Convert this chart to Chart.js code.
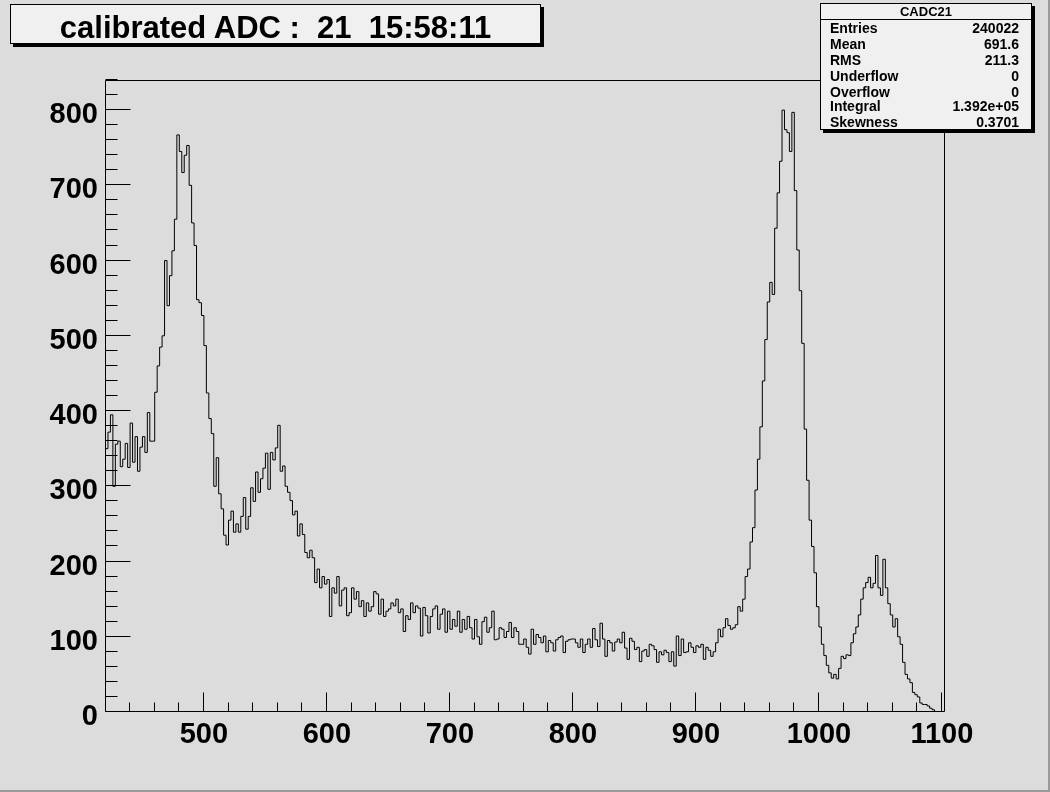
<!DOCTYPE html>
<html>
<head>
<meta charset="utf-8">
<script src="https://cdn.jsdelivr.net/npm/chart.js@4.4.1/dist/chart.umd.min.js"></script>
<style>
  html, body { margin: 0; padding: 0; background: #dcdcdc; }
  #wrap { position: relative; width: 1050px; height: 792px; background: #dcdcdc; overflow: hidden; }
  #edgeR { position: absolute; right: 0; top: 0; width: 2px; height: 792px; background: #9a9a9a; }
  #edgeB { position: absolute; left: 0; bottom: 0; width: 1050px; height: 2px; background: #9a9a9a; }
  canvas { position: absolute; left: 0; top: 0; }
  .box { position: absolute; background: #f0f0f0; border: 1px solid #000; box-shadow: 3px 3px 0 #000;
         font-family: "Liberation Sans", Arial, Helvetica, sans-serif; font-weight: bold; color: #000; }
  #title { left: 10px; top: 4px; width: 529px; height: 38px; font-size: 31px; line-height: 45px;
           text-align: center; white-space: pre; overflow: hidden; }
  #stats { left: 820px; top: 3px; width: 210px; height: 125px; font-size: 14px; }
  #stats .hdr { height: 15px; line-height: 16px; font-size: 13px; text-align: center; border-bottom: 1px solid #000; }
  #stats .row { position: absolute; left: 9px; right: 12px; height: 16px; line-height: 16px; }
  #stats .row span.v { position: absolute; right: 0; }
</style>
</head>
<body>
<div id="wrap">
  <canvas id="c" width="1050" height="792"></canvas>
  <div id="edgeR"></div><div id="edgeB"></div>
  <div class="box" id="title">calibrated ADC :  21  15:58:11</div>
  <div class="box" id="stats">
    <div class="hdr">CADC21</div>
    <div class="row" style="top:16px"><span>Entries</span><span class="v">240022</span></div>
    <div class="row" style="top:32px"><span>Mean</span><span class="v">691.6</span></div>
    <div class="row" style="top:48px"><span>RMS</span><span class="v">211.3</span></div>
    <div class="row" style="top:64px"><span>Underflow</span><span class="v">0</span></div>
    <div class="row" style="top:80px"><span>Overflow</span><span class="v">0</span></div>
    <div class="row" style="top:94px"><span>Integral</span><span class="v">1.392e+05</span></div>
    <div class="row" style="top:110px"><span>Skewness</span><span class="v">0.3701</span></div>
  </div>
</div>
<script>
// ---- data ----
const binLow = 420;
const binWidth = 2;
const counts = [
  365, 350, 372, 395, 300,   356, 360, 326, 336, 357,
  325, 384, 332, 366, 320,   352, 366, 345, 398, 360,
  360, 425, 460, 485, 500,   600, 540, 580, 613, 655,
  767, 745, 717, 740, 753,   700, 650, 620, 548, 544,
  527, 487, 424, 390, 370,   300, 338, 290, 270, 235,
  222, 255, 267, 239, 250,   239, 260, 285, 243, 260,
  298, 280, 319, 292, 310,   324, 344, 296, 345, 335,
  351, 381, 320, 327, 300,   292, 281, 262, 267, 234,
  250, 236, 212, 205, 215,   205, 172, 190, 165, 180,
  170, 176, 127, 165, 158,   180, 141, 162, 165, 128,
  132, 165, 150, 160, 140,   148, 127, 145, 134, 140,
  160, 157, 130, 150, 127,   134, 137, 145, 141, 150,
  132, 137, 107, 128, 123,   145, 132, 141, 138, 101,
  139, 128, 105, 127, 137,   141, 110, 130, 137, 106,
  134, 110, 123, 114, 134,   106, 123, 110, 127, 112,
   97, 123, 100,  90, 120,   126, 106, 112, 134,  96,
   97, 112, 110,  99, 107,   119,  99, 112, 107,  90,
   90,  97,  86,  77, 110,    90, 103,  99,  92, 101,
   80,  95,  92,  81,  96,    99, 101,  79,  94,  96,
   97,  97,  92,  86,  97,    79,  90,  97,  86, 111,
   96,  87, 118,  97,  74,    95,  92,  81,  93,  97,
   92, 106,  85,  70,  98,    94,  83,  86,  67,  81,
   83,  74,  90,  88,  83,    66,  80,  76,  82,  79,
   67,  80,  61, 101,  75,    97,  79,  80,  92,  86,
   79,  88,  86,  90,  70,    86,  82,  74,  80,  92,
  110, 100, 112, 124, 115,   110, 112, 116, 140, 134,
  150, 180, 190, 226, 245,   295, 336, 379, 440, 495,
  545, 571, 555, 643, 690,   732, 800, 774, 770, 745,
  797, 693, 614, 560, 490,   376, 308, 255, 220, 185,
  140, 113,  90,  75,  62,    52,  45,  50,  44,  58,
   74,  71,  76,  75,  92,   104, 113, 129, 150, 165,
  172, 179, 165, 171, 208,   165, 155, 203, 165, 144,
  129, 113, 124, 100,  90,    66,  50,  44,  39,  26,
   23,  20,  12,  10,  10,     8,   5,   3,   0,   0,
    0
];
const xTickLabels = [500, 600, 700, 800, 900, 1000, 1100];
const yTickLabels = [0, 100, 200, 300, 400, 500, 600, 700, 800];
const xRange = [420.4, 1102.5];
const yRange = [0, 840];

// histogram points (bin low edges + closing edge)
const points = counts.map((c, i) => ({ x: binLow + i * binWidth, y: c }));
points.push({ x: binLow + counts.length * binWidth, y: counts[counts.length - 1] });

const FONT = { family: '"Liberation Sans", Arial, Helvetica, sans-serif', size: 29, weight: 'bold' };

const frameTicks = {
  id: 'frameTicks',
  afterDatasetsDraw(chart) {
    const { ctx, chartArea: a, scales: { x, y } } = chart;
    const L = Math.round(a.left) - 0.5, R = Math.round(a.right) - 0.5;
    const T = Math.round(a.top) + 0.5, B = Math.round(a.bottom) - 0.5;
    ctx.save();
    ctx.strokeStyle = '#000';
    ctx.lineWidth = 1;
    ctx.beginPath();
    ctx.moveTo(L, T); ctx.lineTo(R, T); ctx.lineTo(R, B); ctx.lineTo(L, B); ctx.closePath();
    for (let v = 440; v <= 1100; v += 20) {
      const px = Math.round(x.getPixelForValue(v)) - 0.5;
      const len = (v % 100 === 0) ? 19 : 9;
      ctx.moveTo(px, B); ctx.lineTo(px, B - len);
    }
    for (let v = 0; v <= 840; v += 20) {
      const py = Math.round(y.getPixelForValue(v)) - 0.5;
      const len = (v % 100 === 0) ? 25 : 12;
      ctx.moveTo(L, py); ctx.lineTo(L + len, py);
    }
    ctx.stroke();
    ctx.restore();
  }
};

new Chart(document.getElementById('c'), {
  type: 'line',
  data: {
    datasets: [{
      data: points,
      stepped: 'after',
      borderColor: '#000',
      borderWidth: 1,
      pointRadius: 0,
      fill: false,
      tension: 0
    }]
  },
  options: {
    responsive: false,
    animation: false,
    events: [],
    layout: { padding: { top: 80, right: 105, left: 0, bottom: 0 } },
    plugins: { legend: { display: false }, tooltip: { enabled: false }, title: { display: false } },
    scales: {
      x: {
        type: 'linear', min: xRange[0], max: xRange[1],
        afterBuildTicks: s => { s.ticks = xTickLabels.map(v => ({ value: v })); },
        afterFit: s => { s.height = 80; },
        grid: { display: false, drawTicks: false },
        border: { display: false },
        ticks: { color: '#000', font: FONT, padding: 6, maxRotation: 0, autoSkip: false,
                 callback: v => String(v) }
      },
      y: {
        type: 'linear', min: yRange[0], max: yRange[1],
        afterBuildTicks: s => { s.ticks = yTickLabels.map(v => ({ value: v })); },
        afterFit: s => { s.width = 106; },
        grid: { display: false, drawTicks: false },
        border: { display: false },
        ticks: { color: '#000', font: FONT, padding: 8, autoSkip: false, labelOffset: 5,
                 callback: v => String(v) }
      }
    }
  },
  plugins: [frameTicks]
});
</script>
</body>
</html>
